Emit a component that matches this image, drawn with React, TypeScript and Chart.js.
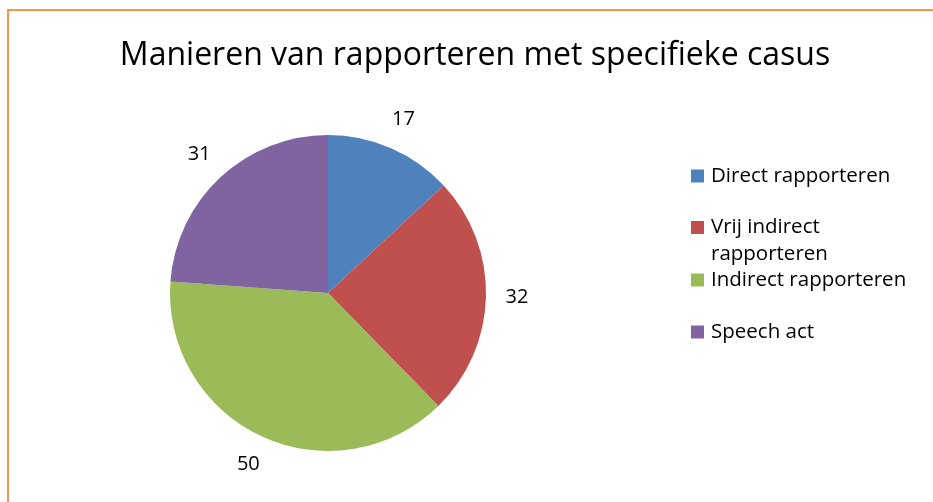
import React, { useEffect, useRef } from "react";
import { Chart, registerables } from "chart.js";

Chart.register(...registerables);

const title = "Manieren van rapporteren met specifieke casus";
const categories = ["Direct rapporteren", "Vrij indirect rapporteren", "Indirect rapporteren", "Speech act"];
const legendLines = [["Direct rapporteren"], ["Vrij indirect", "rapporteren"], ["Indirect rapporteren"], ["Speech act"]];
const values = [17, 32, 50, 31];
const colors = ["#4F81BD", "#C0504D", "#9BBB59", "#8064A2"];

const FONT = "'Open Sans', sans-serif";

const decorPlugin = {
  id: "decor",
  afterDatasetsDraw(chart: any) {
    const ctx = chart.ctx;
    ctx.save();
    // border
    ctx.strokeStyle = "#F79646";
    ctx.lineWidth = 2;
    ctx.beginPath();
    ctx.moveTo(8, 520);
    ctx.lineTo(8, 10);
    ctx.lineTo(960, 10);
    ctx.stroke();

    // title
    ctx.fillStyle = "#000";
    ctx.font = `32px ${FONT}`;
    ctx.textAlign = "center";
    ctx.textBaseline = "alphabetic";
    ctx.fillText(title, 475, 65);

    // data labels
    const meta = chart.getDatasetMeta(0);
    ctx.font = `20px ${FONT}`;
    ctx.textBaseline = "middle";
    meta.data.forEach((arc: any, i: number) => {
      const p = arc.getProps(["x", "y", "startAngle", "endAngle", "outerRadius"], true);
      const mid = (p.startAngle + p.endAngle) / 2;
      const r = p.outerRadius + 31;
      ctx.fillText(String(chart.data.datasets[0].data[i]), p.x + Math.cos(mid) * r, p.y + Math.sin(mid) * r);
    });

    // legend
    const rowCenters = [176, 227.5, 280, 332];
    ctx.textAlign = "left";
    ctx.font = `20.5px ${FONT}`;
    legendLines.forEach((lines, i) => {
      const cy = rowCenters[i];
      ctx.fillStyle = colors[i];
      ctx.fillRect(691, cy - 6.5, 13, 13);
      ctx.fillStyle = "#000";
      lines.forEach((ln, j) => ctx.fillText(ln, 711, cy + j * 27));
    });
    ctx.restore();
  },
};

export default function App() {
  const ref = useRef<HTMLCanvasElement>(null);
  useEffect(() => {
    document.body.style.margin = "0";
    const chart = new Chart(ref.current!, {
      type: "pie",
      data: {
        labels: categories,
        datasets: [{ data: values, backgroundColor: colors, borderWidth: 0 }],
      },
      options: {
        animation: false,
        responsive: false,
        layout: { padding: { left: 170, right: 447, top: 135, bottom: 51 } },
        plugins: { legend: { display: false }, title: { display: false }, tooltip: { enabled: false } },
      },
      plugins: [decorPlugin],
    });
    return () => chart.destroy();
  }, []);
  return (
    <div style={{ width: 933, height: 502, background: "#fff" }}>
      <canvas ref={ref} width={933} height={502} />
    </div>
  );
}
